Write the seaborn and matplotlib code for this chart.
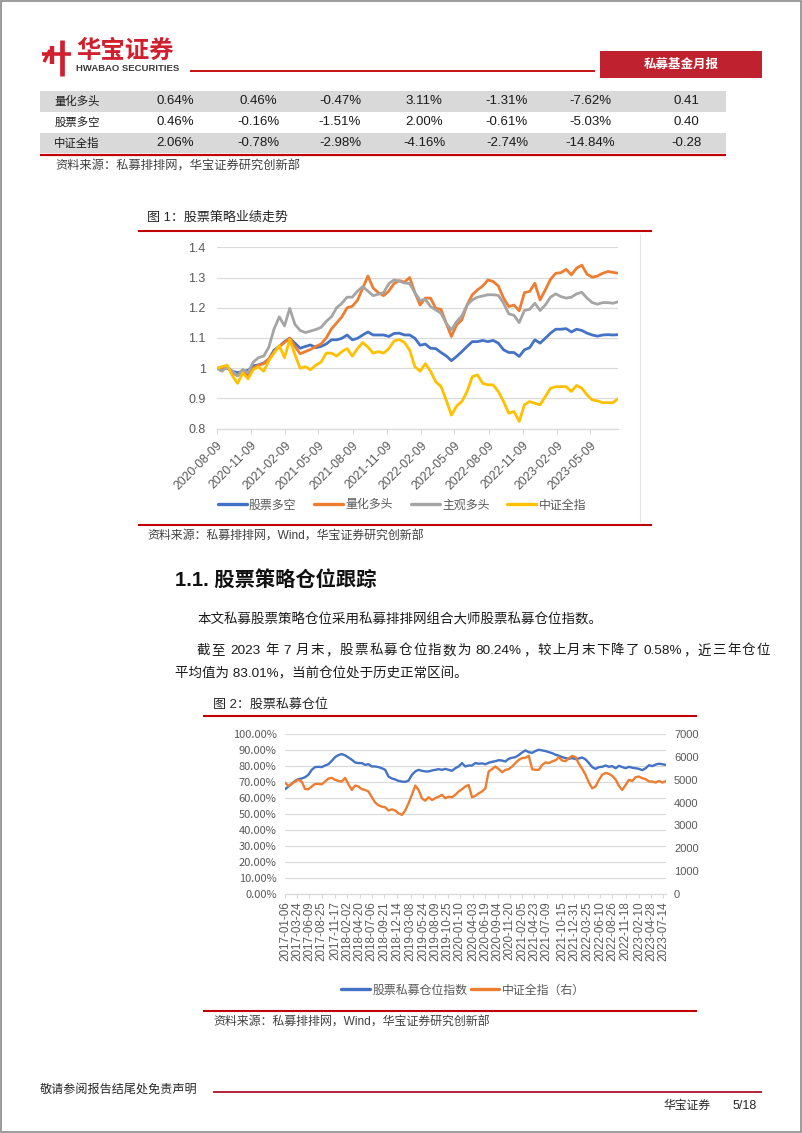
import matplotlib
matplotlib.use("Agg")
import matplotlib.pyplot as plt
import matplotlib.ticker as mticker
from matplotlib.lines import Line2D
from matplotlib.patches import Rectangle
import numpy as np
import pandas as pd
import seaborn as sns

sns.set_theme(style="white")
FAM = ["Liberation Sans", "Noto Sans CJK SC"]
CJK = ["Noto Sans CJK SC", "DejaVu Sans"]
plt.rcParams["font.family"] = FAM
plt.rcParams["axes.unicode_minus"] = False

# ---------------- table data ----------------
table_labels = ["量化多头", "股票多空", "中证全指"]
table_rows = [
    ["0.64%", "0.46%", "-0.47%", "3.11%", "-1.31%", "-7.62%", "0.41"],
    ["0.46%", "-0.16%", "-1.51%", "2.00%", "-0.61%", "-5.03%", "0.40"],
    ["2.06%", "-0.78%", "-2.98%", "-4.16%", "-2.74%", "-14.84%", "-0.28"],
]

# ---------------- chart 1 data (bi-weekly) ----------------
names1 = ["股票多空", "量化多头", "主观多头", "中证全指"]
colors1 = ["#4472C4", "#ED7D31", "#A5A5A5", "#FFC000"]
dates1 = pd.date_range("2020-08-09", periods=78, freq="14D")
xt1 = ["2020-08-09", "2020-11-09", "2021-02-09", "2021-05-09", "2021-08-09", "2021-11-09",
       "2022-02-09", "2022-05-09", "2022-08-09", "2022-11-09", "2023-02-09", "2023-05-09"]
s_ls = [1.000, 1.000, 1.000, 0.990, 0.985, 0.990, 0.993, 1.008, 1.011, 1.017, 1.030, 1.060, 1.072,
        1.088, 1.099, 1.083, 1.066, 1.072, 1.077, 1.068, 1.072, 1.080, 1.094, 1.094, 1.099, 1.110,
        1.094, 1.099, 1.110, 1.120, 1.110, 1.110, 1.110, 1.105, 1.115, 1.116, 1.110, 1.110, 1.099,
        1.076, 1.080, 1.066, 1.065, 1.052, 1.041, 1.025, 1.039, 1.055, 1.072, 1.088, 1.088, 1.092,
        1.088, 1.092, 1.083, 1.061, 1.052, 1.052, 1.039, 1.061, 1.068, 1.094, 1.083, 1.099, 1.116,
        1.129, 1.129, 1.131, 1.120, 1.129, 1.125, 1.116, 1.110, 1.106, 1.110, 1.111, 1.110, 1.111]
s_ql = [1.000, 0.995, 1.005, 0.985, 0.975, 0.995, 0.975, 1.000, 1.010, 1.015, 1.030, 1.055, 1.072,
        1.085, 1.100, 1.072, 1.048, 1.055, 1.062, 1.072, 1.080, 1.100, 1.130, 1.150, 1.170, 1.200,
        1.205, 1.225, 1.265, 1.305, 1.265, 1.250, 1.240, 1.255, 1.280, 1.290, 1.285, 1.300, 1.250,
        1.209, 1.232, 1.232, 1.198, 1.195, 1.149, 1.105, 1.143, 1.160, 1.209, 1.243, 1.259, 1.272,
        1.292, 1.287, 1.272, 1.232, 1.204, 1.209, 1.190, 1.250, 1.254, 1.281, 1.226, 1.259, 1.294,
        1.314, 1.316, 1.327, 1.309, 1.331, 1.341, 1.311, 1.301, 1.305, 1.314, 1.320, 1.317, 1.314]
s_zg = [1.000, 0.990, 1.005, 0.990, 0.975, 0.995, 0.985, 1.020, 1.035, 1.040, 1.070, 1.130, 1.170,
        1.140, 1.198, 1.145, 1.125, 1.118, 1.123, 1.128, 1.135, 1.155, 1.170, 1.200, 1.215, 1.235,
        1.235, 1.255, 1.270, 1.255, 1.240, 1.245, 1.250, 1.280, 1.292, 1.288, 1.282, 1.280, 1.250,
        1.224, 1.228, 1.204, 1.193, 1.182, 1.149, 1.127, 1.154, 1.173, 1.209, 1.226, 1.235, 1.239,
        1.243, 1.243, 1.241, 1.215, 1.180, 1.175, 1.151, 1.191, 1.195, 1.215, 1.191, 1.209, 1.235,
        1.246, 1.237, 1.232, 1.235, 1.246, 1.251, 1.232, 1.217, 1.212, 1.217, 1.217, 1.215, 1.220]
s_zz = [1.000, 1.005, 1.010, 0.975, 0.950, 0.985, 0.965, 0.995, 1.005, 0.990, 1.025, 1.050, 1.075,
        1.035, 1.095, 1.045, 1.000, 1.005, 0.995, 1.010, 1.020, 1.050, 1.050, 1.040, 1.055, 1.065,
        1.040, 1.065, 1.085, 1.070, 1.050, 1.055, 1.050, 1.065, 1.090, 1.095, 1.085, 1.060, 1.005,
        0.990, 1.015, 0.990, 0.955, 0.940, 0.895, 0.845, 0.875, 0.890, 0.923, 0.972, 0.978, 0.950,
        0.945, 0.945, 0.923, 0.890, 0.851, 0.857, 0.824, 0.879, 0.890, 0.884, 0.879, 0.906, 0.934,
        0.939, 0.939, 0.939, 0.923, 0.943, 0.934, 0.912, 0.895, 0.892, 0.886, 0.886, 0.886, 0.900]

# ---------------- chart 2 data (every 3 weeks) ----------------
dates2 = pd.date_range("2017-01-06", periods=115, freq="21D")
xt2 = ["2017-01-06", "2017-03-24", "2017-06-09", "2017-08-25", "2017-11-17", "2018-02-02",
       "2018-04-20", "2018-07-06", "2018-09-21", "2018-12-14", "2019-03-08", "2019-05-24",
       "2019-08-09", "2019-10-25", "2020-01-10", "2020-04-03", "2020-06-19", "2020-09-04",
       "2020-11-20", "2021-02-05", "2021-04-23", "2021-07-09", "2021-10-15", "2021-12-31",
       "2022-03-25", "2022-06-10", "2022-08-26", "2022-11-18", "2023-02-10", "2023-04-28",
       "2023-07-14"]
pos_idx = [65.4, 67.1, 68.8, 70.6, 71.7, 72.1, 72.9, 74.4, 77.5, 79.2, 79.4, 79.2, 80.2, 81.0,
           83.1, 85.4, 86.7, 87.3, 86.5, 85.2, 83.8, 82.1, 81.7, 81.7, 80.6, 81.0, 79.6, 79.6,
           79.2, 78.5, 77.5, 73.3, 72.1, 71.5, 70.6, 70.2, 70.0, 70.8, 74.4, 76.5, 77.5, 76.9,
           76.5, 76.5, 77.1, 77.5, 77.9, 77.5, 78.1, 77.5, 76.9, 78.5, 79.6, 81.7, 79.6, 80.2,
           80.2, 81.7, 81.3, 81.5, 81.0, 81.9, 82.5, 82.9, 83.5, 83.3, 82.7, 84.4, 85.0, 85.4,
           86.7, 88.3, 89.6, 88.5, 88.1, 89.2, 90.0, 89.6, 89.2, 88.5, 87.9, 86.9, 86.3, 85.4,
           84.8, 84.4, 84.8, 84.2, 84.6, 85.2, 84.0, 81.7, 79.2, 78.1, 79.2, 79.4, 80.2, 79.4,
           79.8, 78.5, 80.0, 79.2, 78.5, 79.4, 78.8, 78.5, 78.1, 77.3, 78.5, 80.4, 79.8, 80.8,
           81.3, 81.0, 80.6]
csi_all = [4870, 4725, 4810, 4915, 4990, 4915, 4590, 4580, 4700, 4810, 4810, 4795, 4915, 5045,
           5075, 4990, 4940, 4915, 5075, 4795, 4550, 4740, 4700, 4580, 4550, 4480, 4230, 4000,
           3880, 3820, 3795, 3650, 3705, 3650, 3530, 3460, 3650, 3970, 4335, 4740, 4550, 4185,
           4080, 4230, 4110, 4185, 4255, 4335, 4185, 4255, 4230, 4335, 4480, 4580, 4700, 4765,
           4230, 4290, 4400, 4480, 4620, 5355, 5455, 5570, 5455, 5320, 5425, 5455, 5570, 5720,
           5860, 5935, 5950, 6040, 5455, 5425, 5425, 5640, 5750, 5720, 5790, 5845, 5965, 5830,
           5800, 5935, 6030, 5980, 5690, 5465, 5210, 4870, 4620, 4700, 4990, 5210, 5290, 5250,
           5160, 5005, 4725, 4550, 4765, 4990, 4940, 5105, 5130, 5060, 5020, 4915, 4915, 4870,
           4940, 4870, 4930]
names2 = ["股票私募仓位指数", "中证全指（右）"]
colors2 = ["#4472C4", "#ED7D31"]

# ---------------- page ----------------
W, H = 802, 1133
RED = "#C00000"
GRID = "#D9D9D9"
TICK = "#595959"
fig = plt.figure(figsize=(W / 100, H / 100), dpi=100)
fig.patch.set_facecolor("white")


def fx(x):
    return x / W


def fy(y):
    return 1 - y / H


def seg(x0, y0, x1, y1, color, lw):
    fig.add_artist(Line2D([fx(x0), fx(x1)], [fy(y0), fy(y1)], transform=fig.transFigure,
                          color=color, lw=lw, solid_capstyle="butt"))


def txt(x, y, s, size, color="#262626", ha="left", va="center", weight="normal", family=None):
    return fig.text(fx(x), fy(y), s, fontsize=size, color=color, ha=ha, va=va,
                    fontweight=weight, family=family or FAM)


def rect(x0, y0, x1, y1, fc, ec="none", lw=0):
    fig.add_artist(Rectangle((fx(x0), fy(y1)), fx(x1) - fx(x0), fy(y0) - fy(y1),
                             transform=fig.transFigure, fc=fc, ec=ec, lw=lw))


def justify(x0, x1, y, s, size, color):
    """Lay out one line of mixed CJK / Latin text justified between x0 and x1."""
    toks, buf = [], ""
    for ch in s:
        if ord(ch) < 128:
            buf += ch
        else:
            if buf:
                toks.append(buf)
                buf = ""
            toks.append(ch)
    if buf:
        toks.append(buf)
    r = fig.canvas.get_renderer()
    sp = size / 0.72 * 0.28
    items = []
    for t in toks:
        nsp = len(t) - len(t.strip(" "))
        core = t.strip(" ")
        art = txt(x0, y, core, size, color=color)
        w = art.get_window_extent(r).width
        items.append((art, w, nsp * sp))
    total = sum(w + g for _, w, g in items)
    extra = (x1 - x0 - total) / max(len(items) - 1, 1)
    x = x0
    for i, (art, w, g) in enumerate(items):
        t = toks[i]
        if t.startswith(" "):
            x += sp
        art.set_x(fx(x))
        x += w + extra
        if t.endswith(" "):
            x += sp


# page border
fig.add_artist(Rectangle((0.001, 0.001), 0.998, 0.998, transform=fig.transFigure,
                         fill=False, ec="#8a8a8a", lw=1.2))

# header logo
seg(52, 46, 52, 64, "#D0202E", 3.2)
seg(62, 40, 62, 76, "#D0202E", 3.4)
seg(42, 54, 71, 54, "#D0202E", 2.6)
seg(44, 62, 50, 50, "#D0202E", 2.4)
txt(76, 50.5, "华宝证券", 17.6, color="#D0202E", weight="bold", family=CJK)
txt(76, 68.5, "HWABAO SECURITIES", 6.8, color="#3a3a3a", weight="bold")
seg(190, 70.5, 595, 70.5, RED, 1.3)
rect(600, 51, 762, 78, "#C0212F")
txt(681, 64.5, "私募基金月报", 9, color="white", ha="center", weight="bold", family=CJK)

# table
row_y = [101.5, 122, 143]
col_x = [175, 258, 340, 424, 507, 590, 686]
rect(40, 91.5, 726, 111.5, "#D9D9D9")
rect(40, 132.5, 726, 153, "#D9D9D9")
for r_, (lab, vals) in enumerate(zip(table_labels, table_rows)):
    txt(77, row_y[r_], lab, 8.2, color="#1a1a1a", ha="center", family=CJK)
    for cx, v in zip(col_x, vals):
        txt(cx, row_y[r_], v, 9.5, color="#1a1a1a", ha="center")
seg(40, 154.8, 726, 154.8, RED, 1.6)
txt(55, 166, "资料来源：私募排排网，华宝证券研究创新部", 8.8, color="#404040")

# ---------------- chart 1 ----------------
txt(147, 218, "图 1：股票策略业绩走势", 9.4, color="#262626")
seg(138, 230.5, 652, 230.5, RED, 1.5)
seg(640, 234, 640, 522, "#E3E3E3", 0.8)

ax1 = fig.add_axes([fx(216.7), fy(428.7), (618.3 - 216.7) / W, (428.7 - 247.3) / H])
df1 = pd.DataFrame({"date": dates1, names1[0]: s_ls, names1[1]: s_ql,
                    names1[2]: s_zg, names1[3]: s_zz})
long1 = df1.melt(id_vars="date", var_name="series", value_name="value")
sns.lineplot(data=long1, x="date", y="value", hue="series", hue_order=names1,
             palette=dict(zip(names1, colors1)), lw=2.0, ax=ax1, legend=False)
ax1.set_xlim(dates1[0], dates1[-1])
ax1.set_ylim(0.8, 1.4)
ax1.set_yticks([0.8, 0.9, 1.0, 1.1, 1.2, 1.3, 1.4])
ax1.yaxis.set_major_formatter(mticker.FuncFormatter(lambda v, p: f"{v:g}"))
ax1.set_xticks(pd.to_datetime(xt1))
ax1.set_xticklabels(xt1, rotation=45, ha="right", rotation_mode="anchor")
ax1.set_xlabel("")
ax1.set_ylabel("")
ax1.grid(axis="y", color=GRID, lw=0.8)
ax1.set_axisbelow(True)
for s in ["top", "right", "left"]:
    ax1.spines[s].set_visible(False)
ax1.spines["bottom"].set_color(GRID)
ax1.spines["bottom"].set_linewidth(0.9)
ax1.tick_params(axis="x", colors=GRID, labelcolor=TICK, labelsize=8.8, length=3.5, width=0.8,
                pad=4, bottom=True)
ax1.tick_params(axis="y", labelcolor=TICK, labelsize=9, length=0, pad=8)
for lab in ax1.get_xticklabels() + ax1.get_yticklabels():
    lab.set_family(FAM)

h1 = [Line2D([], [], color=c, lw=2.4) for c in colors1]
fig.legend(h1, names1, loc="center", bbox_to_anchor=(fx(402), fy(505)), ncol=4,
           frameon=False, handlelength=2.4, handletextpad=0.2, columnspacing=1.5,
           labelcolor=TICK, prop={"family": CJK, "size": 8.6})

seg(138, 525, 652, 525, RED, 1.5)
txt(147, 537, "资料来源：私募排排网，Wind，华宝证券研究创新部", 8.6, color="#404040")

# ---------------- text section ----------------
txt(175, 580, "1.1. 股票策略仓位跟踪", 14.6, color="#111111", weight="bold")
txt(197, 620, "本文私募股票策略仓位采用私募排排网组合大师股票私募仓位指数。", 9.7, color="#1a1a1a")
justify(197, 770, 651, "截至 2023 年 7 月末，股票私募仓位指数为 80.24%，较上月末下降了 0.58%，近三年仓位",
        9.7, "#1a1a1a")
txt(175, 674, "平均值为 83.01%，当前仓位处于历史正常区间。", 9.7, color="#1a1a1a")

# ---------------- chart 2 ----------------
txt(213, 705, "图 2：股票私募仓位", 9.4, color="#262626")
seg(203, 716, 697, 716, RED, 1.5)

ax2 = fig.add_axes([fx(285), fy(894.3), (665.7 - 285) / W, (894.3 - 733.7) / H])
df2 = pd.DataFrame({"date": dates2, "pos": pos_idx, "csi": csi_all})
sns.lineplot(data=df2, x="date", y="pos", color=colors2[0], lw=1.7, ax=ax2)
ax2r = ax2.twinx()
sns.lineplot(data=df2, x="date", y="csi", color=colors2[1], lw=1.7, ax=ax2r)
ax2.set_xlim(dates2[0], dates2[-1])
ax2.set_ylim(0, 100)
ax2r.set_ylim(0, 7000)
ax2.set_yticks(np.arange(0, 101, 10))
ax2.yaxis.set_major_formatter(mticker.FuncFormatter(lambda v, p: f"{v:.2f}%"))
ax2r.set_yticks(np.arange(0, 7001, 1000))
ax2.set_xticks(pd.to_datetime(xt2))
ax2.set_xticklabels(xt2, rotation=90, ha="center", va="top")
for a in (ax2, ax2r):
    a.set_xlabel("")
    a.set_ylabel("")
    for s in ["top", "right", "left", "bottom"]:
        a.spines[s].set_visible(False)
ax2.spines["bottom"].set_visible(True)
ax2.spines["bottom"].set_color(GRID)
ax2.spines["bottom"].set_linewidth(0.9)
ax2.grid(axis="y", color=GRID, lw=0.8)
ax2.set_axisbelow(True)
ax2r.grid(False)
ax2.tick_params(axis="x", colors=GRID, labelcolor=TICK, labelsize=8.4, length=3, width=0.8,
                pad=2, bottom=True)
ax2.tick_params(axis="y", labelcolor=TICK, labelsize=8, length=0, pad=6)
ax2r.tick_params(axis="y", labelcolor=TICK, labelsize=8, length=0, pad=6)
for lab in ax2.get_xticklabels() + ax2r.get_yticklabels():
    lab.set_family(FAM)
for lab in ax2.get_yticklabels():
    lab.set_family(CJK)

h2 = [Line2D([], [], color=c, lw=2.4) for c in colors2]
fig.legend(h2, names2, loc="center", bbox_to_anchor=(fx(463), fy(990)), ncol=2,
           frameon=False, handlelength=2.4, handletextpad=0.2, columnspacing=0.3,
           labelcolor=TICK, prop={"family": CJK, "size": 8.6})

seg(203, 1011, 697, 1011, RED, 1.5)
txt(213, 1023, "资料来源：私募排排网，Wind，华宝证券研究创新部", 8.6, color="#404040")

# ---------------- footer ----------------
txt(40, 1090, "敬请参阅报告结尾处免责声明", 8.7, color="#262626")
seg(213, 1091.5, 762, 1091.5, "#B0102A", 1.3)
txt(663, 1106, "华宝证券", 8.5, color="#262626")
txt(733, 1106, "5/18", 9, color="#262626")

fig.savefig("out.png", dpi=100)
